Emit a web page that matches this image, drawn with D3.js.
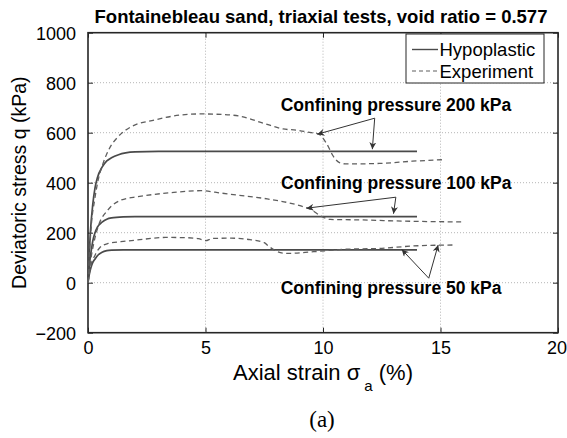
<!DOCTYPE html>
<html><head><meta charset="utf-8">
<script src="https://cdn.jsdelivr.net/npm/d3@7"></script>
<style>body{margin:0;background:#fff}svg{display:block}</style>
</head><body>
<script>
// ---- data ----
const xTicks = [0, 5, 10, 15, 20];
const yTicks = [-200, 0, 200, 400, 600, 800, 1000];
const seriesNames = ["Hypoplastic", "Experiment"];
const hypo200 = [[0,0],[0.05,110],[0.1,200],[0.2,310],[0.3,380],[0.4,420],[0.6,462],[0.8,487],[1.0,500],[1.3,512],[1.6,519],[2,523],[3,525],[5,525],[14,525]];
const hypo100 = [[0,0],[0.05,60],[0.1,105],[0.15,135],[0.2,165],[0.3,200],[0.4,222],[0.6,242],[0.8,254],[1.0,259],[1.5,263],[2,264],[14,264]];
const hypo50  = [[0,0],[0.05,30],[0.1,52],[0.15,68],[0.2,80],[0.3,95],[0.4,108],[0.6,122],[0.8,128],[1,130],[1.5,131],[14,131]];
const exp200 = [[0,0],[0.07,130],[0.15,240],[0.28,330],[0.43,410],[0.64,477],[0.9,535],[1.28,584],[1.84,624],[2.84,651],[3.97,671],[4.8,675],[5.7,673],[6.4,667],[7.5,637],[8.3,615],[8.9,610],[9.5,600],[9.8,595],[10.15,557],[10.45,504],[10.7,480],[11,475],[12.4,477],[13.8,486],[15.1,492]];
const exp100 = [[0,0],[0.1,80],[0.25,160],[0.43,224],[0.85,291],[1.42,331],[2.13,344],[2.8,353],[3.5,360],[4.8,368],[5.7,358],[6.4,350],[7.5,337],[8.9,311],[9.45,294],[10,262],[10.3,253],[11.7,251],[13.1,247],[16,243]];
const exp50  = [[0,0],[0.1,60],[0.3,110],[0.5,140],[0.85,157],[1.4,164],[2.1,171],[3.3,181],[4.2,180],[4.7,176],[5.0,168],[5.3,177],[6.1,178],[6.9,172],[7.5,160],[7.7,145],[8.0,127],[8.45,117],[9.6,124],[11,134],[12.4,137],[13.85,147],[15.6,151]];
const labels = ["Confining pressure 200 kPa", "Confining pressure 100 kPa", "Confining pressure 50 kPa"];
// arrows: [fromStrain, fromQ, toStrain, toQ]
const arrows200 = [[12.2,658,9.76,594],[12.2,658,12.1,534]];
const arrows100 = [[13.1,342,9.3,298],[13.1,342,13.0,276]];
const arrows50  = [[14.5,18,13.35,133],[14.5,18,14.9,151]];

const W = 567, H = 438;
const L = 88, R = 558, T = 32.7, B = 332.7;
const x = d3.scaleLinear().domain([0, 20]).range([L, R]);
const y = d3.scaleLinear().domain([-200, 1000]).range([B, T]);

const svg = d3.select("body").append("svg").attr("width", W).attr("height", H)
  .style("font-family", "Arial, 'Liberation Sans', Helvetica, sans-serif");

const defs = svg.append("defs");
defs.append("marker").attr("id", "ah").attr("viewBox", "0 0 10 10")
  .attr("refX", 10).attr("refY", 5).attr("markerWidth", 9).attr("markerHeight", 7)
  .attr("markerUnits", "userSpaceOnUse").attr("orient", "auto")
  .append("path").attr("d", "M0,0 L10,5 L0,10 L3,5 Z").attr("fill", "#333");

// grid
const grid = svg.append("g").attr("stroke", "#b5b5b5").attr("stroke-width", 1).attr("stroke-dasharray", "1,2");
grid.selectAll(".gx").data(xTicks.filter(d => d > 0 && d < 20)).join("line")
  .attr("x1", d => x(d)).attr("x2", d => x(d)).attr("y1", T).attr("y2", B);
grid.selectAll(".gy").data(yTicks.filter(d => d > -200 && d < 1000)).join("line")
  .attr("x1", L).attr("x2", R).attr("y1", d => y(d)).attr("y2", d => y(d));

// axes via d3
const gxB = svg.append("g").attr("transform", `translate(0,${B})`)
  .call(d3.axisBottom(x).tickValues(xTicks).tickSize(-5).tickPadding(9).tickFormat(d3.format("d")));
const gxT = svg.append("g").attr("transform", `translate(0,${T})`)
  .call(d3.axisTop(x).tickValues(xTicks).tickSize(-5).tickFormat(""));
const gyL = svg.append("g").attr("transform", `translate(${L},0)`)
  .call(d3.axisLeft(y).tickValues(yTicks).tickSize(-5).tickPadding(12).tickFormat(d => d < 0 ? "\u2212" + Math.abs(d) : d));
const gyR = svg.append("g").attr("transform", `translate(${R},0)`)
  .call(d3.axisRight(y).tickValues(yTicks).tickSize(-5).tickFormat(""));
[gxB, gxT, gyL, gyR].forEach(g => {
  g.select(".domain").remove();
  g.selectAll(".tick line").attr("stroke", "#262626").attr("stroke-width", 1);
  g.selectAll("text").attr("font-size", 18).attr("fill", "#000").attr("font-family", "Arial, 'Liberation Sans', sans-serif");
});
gxB.selectAll("text").attr("dy", "0.71em").attr("dx", d => d === 20 ? -1.5 : 0);
gyL.selectAll("text").attr("dy", "0.36em");

svg.append("rect").attr("x", L).attr("y", T).attr("width", R - L).attr("height", B - T)
  .attr("fill", "none").attr("stroke", "#262626").attr("stroke-width", 1.6);

// curves
const line = d3.line().x(d => x(d[0])).y(d => y(d[1])).curve(d3.curveMonotoneX);
const plot = svg.append("g");
[hypo200, hypo100, hypo50].forEach(s => plot.append("path").attr("d", line(s))
  .attr("fill", "none").attr("stroke", "#4a4a4a").attr("stroke-width", 1.7));
[exp200, exp100, exp50].forEach(s => plot.append("path").attr("d", line(s))
  .attr("fill", "none").attr("stroke", "#5e5e5e").attr("stroke-width", 1.3).attr("stroke-dasharray", "5,3.5"));

// annotations
const ann = svg.append("g").attr("font-weight", "bold").attr("font-size", 17.5).attr("fill", "#000");
const labPos = [[280.7, 110.5], [281, 188.8], [280.7, 294]];
labels.forEach((t, i) => ann.append("text").attr("x", labPos[i][0]).attr("y", labPos[i][1]).text(t));
[...arrows200, ...arrows100, ...arrows50].forEach(a => svg.append("line")
  .attr("x1", x(a[0])).attr("y1", y(a[1])).attr("x2", x(a[2])).attr("y2", y(a[3]))
  .attr("stroke", "#333").attr("stroke-width", 1).attr("marker-end", "url(#ah)"));

// legend
const lg = svg.append("g");
lg.append("rect").attr("x", 406).attr("y", 34).attr("width", 138).attr("height", 49)
  .attr("fill", "#fff").attr("stroke", "#262626").attr("stroke-width", 1);
const lgY = [49.5, 71];
seriesNames.forEach((n, i) => {
  lg.append("line").attr("x1", 412).attr("x2", 438).attr("y1", lgY[i]).attr("y2", lgY[i])
    .attr("stroke", i === 0 ? "#4a4a4a" : "#5e5e5e").attr("stroke-width", i === 0 ? 1.4 : 1.2)
    .attr("stroke-dasharray", i === 0 ? null : "4,3");
  lg.append("text").attr("x", 439.5).attr("y", lgY[i] + 6.5).attr("font-size", 18.5).text(n);
});

// title
svg.append("text").attr("x", 321).attr("y", 22.5).attr("text-anchor", "middle")
  .attr("font-weight", "bold").attr("font-size", 18.5).text("Fontainebleau sand, triaxial tests, void ratio = 0.577");

// axis labels
const xl = svg.append("text").attr("x", 233).attr("y", 380).attr("font-size", 22);
xl.append("tspan").text("Axial strain \u03c3");
xl.append("tspan").attr("font-size", 15).attr("dx", 4).attr("dy", 11).text("a");
xl.append("tspan").attr("dy", -11).text(" (%)");

svg.append("text").attr("transform", `translate(26,${(T + B) / 2}) rotate(-90)`)
  .attr("text-anchor", "middle").attr("font-size", 19.5).text("Deviatoric stress q (kPa)");

svg.append("text").attr("x", 322).attr("y", 427).attr("text-anchor", "middle")
  .attr("font-family", "'Liberation Serif', 'DejaVu Serif', serif").attr("font-size", 23).text("(a)");
</script>
</body></html>
